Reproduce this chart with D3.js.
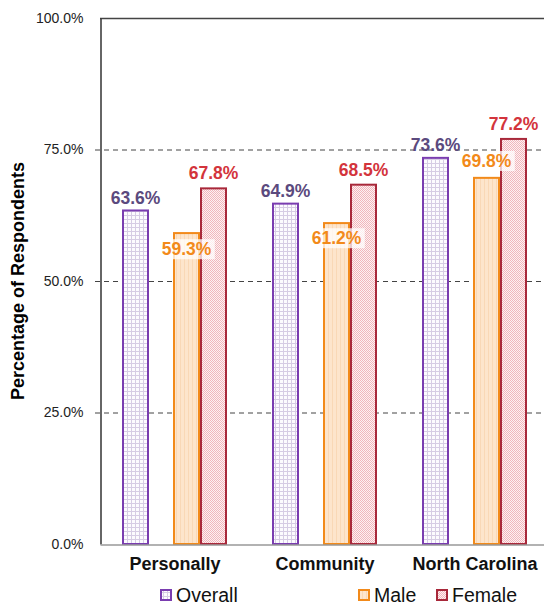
<!DOCTYPE html>
<html>
<head>
<meta charset="utf-8">
<script src="https://cdn.jsdelivr.net/npm/d3@7"></script>
<style>
  body { margin: 0; background: #fff; }
  svg { font-family: "Liberation Sans", Arial, sans-serif; }
</style>
</head>
<body>
<svg id="svg" width="544" height="605"></svg>
<script>
const categories = ['Personally', 'Community', 'North Carolina'];
const seriesNames = ['Overall', 'Male', 'Female'];
const overallValues = [63.6, 64.9, 73.6];
const maleValues = [59.3, 61.2, 69.8];
const femaleValues = [67.8, 68.5, 77.2];
const yTicks = [0, 25, 50, 75, 100];

const svg = d3.select('#svg');
const defs = svg.append('defs');

// fill patterns
const pOver = defs.append('pattern').attr('id', 'pOverall').attr('patternUnits', 'userSpaceOnUse')
  .attr('width', 4).attr('height', 4);
pOver.append('rect').attr('width', 4).attr('height', 4).attr('fill', '#fcfbfe');
pOver.append('rect').attr('x', 3).attr('width', 1).attr('height', 4).attr('fill', '#d6cce4');
pOver.append('rect').attr('y', 3).attr('width', 4).attr('height', 1).attr('fill', '#d6cce4');

const pMale = defs.append('pattern').attr('id', 'pMale').attr('patternUnits', 'userSpaceOnUse')
  .attr('width', 4).attr('height', 4);
pMale.append('rect').attr('width', 4).attr('height', 4).attr('fill', '#fde5cc');
pMale.append('rect').attr('x', 0).attr('width', 1).attr('height', 4).attr('fill', '#f9d8b6');

const pFem = defs.append('pattern').attr('id', 'pFemale').attr('patternUnits', 'userSpaceOnUse')
  .attr('width', 2).attr('height', 2);
pFem.append('rect').attr('width', 2).attr('height', 2).attr('fill', '#fdf1f2');
pFem.append('rect').attr('width', 1).attr('height', 1).attr('fill', '#f1b6bc');
pFem.append('rect').attr('x', 1).attr('y', 1).attr('width', 1).attr('height', 1).attr('fill', '#f1b6bc');

const fills = { Overall: 'url(#pOverall)', Male: 'url(#pMale)', Female: 'url(#pFemale)' };
const strokes = { Overall: '#7a3db0', Male: '#f28a1a', Female: '#a8283a' };
const labelColors = { Overall: '#5b4a7e', Male: '#f28a1a', Female: '#d3343c' };
const labelOffsets = { Overall: [-12, -12, -12], Male: [17, 16, -16], Female: [-14, -14, -14] };

const x = d3.scaleBand().domain(categories).range([100, 550]);
const sx = d3.scaleOrdinal().domain(seriesNames).range([22, 73, 100]);
const barW = 27;
const y = d3.scaleLinear().domain([0, 100]).range([544, 18]);

// gridlines
svg.append('g').selectAll('line').data([25, 50, 75]).enter().append('line')
  .attr('x1', 95).attr('x2', 550)
  .attr('y1', d => y(d) + 0.5).attr('y2', d => y(d) + 0.5)
  .attr('stroke', '#444').attr('stroke-dasharray', '5,4').attr('stroke-width', 1);
svg.append('line').attr('x1', 100).attr('x2', 550).attr('y1', y(100) + 0.5).attr('y2', y(100) + 0.5)
  .attr('stroke', '#444').attr('stroke-width', 1.5);

// y axis
const yAxis = d3.axisLeft(y).tickValues(yTicks).tickSize(0).tickPadding(17)
  .tickFormat(d => d.toFixed(1) + '%');
const gy = svg.append('g').attr('transform', 'translate(100.5,0)').call(yAxis);
gy.select('.domain').attr('stroke', '#333').attr('stroke-width', 1.5);
gy.selectAll('text').attr('font-size', 14).attr('fill', '#222')
  .attr('font-family', '"Liberation Sans", Arial, sans-serif');

svg.append('text').attr('transform', 'translate(24,281) rotate(-90)')
  .attr('text-anchor', 'middle').attr('font-size', 18).attr('font-weight', 'bold')
  .text('Percentage of Respondents');

const data = [];
categories.forEach((c, i) => {
  data.push({ cat: c, s: 'Overall', v: overallValues[i], i });
  data.push({ cat: c, s: 'Male', v: maleValues[i], i });
  data.push({ cat: c, s: 'Female', v: femaleValues[i], i });
});

// bars
svg.append('g').selectAll('rect').data(data).enter().append('rect')
  .attr('x', d => x(d.cat) + sx(d.s) + 1)
  .attr('y', d => y(d.v) + 1)
  .attr('width', barW - 2)
  .attr('height', d => y(0) - y(d.v) - 1)
  .attr('fill', d => fills[d.s])
  .attr('stroke', d => strokes[d.s]).attr('stroke-width', 2);

// x axis
const gx = svg.append('g').attr('transform', 'translate(0,544.5)')
  .call(d3.axisBottom(x).tickSize(0).tickPadding(13));
gx.select('.domain').attr('stroke', '#999').attr('stroke-width', 1.5);
gx.selectAll('text').attr('font-size', 18).attr('font-weight', 'bold').attr('fill', '#111')
  .attr('font-family', '"Liberation Sans", Arial, sans-serif');

// value labels
const lg = svg.append('g');
data.forEach(d => {
  const cx = x(d.cat) + sx(d.s) + barW / 2;
  const cy = y(d.v) + labelOffsets[d.s][d.i];
  const t = lg.append('text').attr('x', cx).attr('y', cy).attr('dy', '0.35em')
    .attr('text-anchor', 'middle').attr('font-size', 17.5).attr('font-weight', 'bold')
    .attr('fill', labelColors[d.s]).text(d.v.toFixed(1) + '%');
  if (d.s === 'Male') {
    const bb = t.node().getBBox();
    lg.insert('rect', () => t.node())
      .attr('x', bb.x - 3).attr('y', bb.y).attr('width', bb.width + 6).attr('height', bb.height)
      .attr('fill', '#fff').attr('opacity', 0.75);
  }
});

// legend
const legendX = { Overall: 160, Male: 358, Female: 436 };
const leg = svg.append('g').selectAll('g').data(seriesNames).enter().append('g')
  .attr('transform', d => `translate(${legendX[d]},589)`);
leg.append('rect').attr('x', 1).attr('y', 1).attr('width', 10).attr('height', 10)
  .attr('fill', d => fills[d]).attr('stroke', d => strokes[d]).attr('stroke-width', 2);
leg.append('text').attr('x', 16).attr('y', 13).attr('font-size', 19.5)
  .attr('fill', '#111').text(d => d);
</script>
</body>
</html>
